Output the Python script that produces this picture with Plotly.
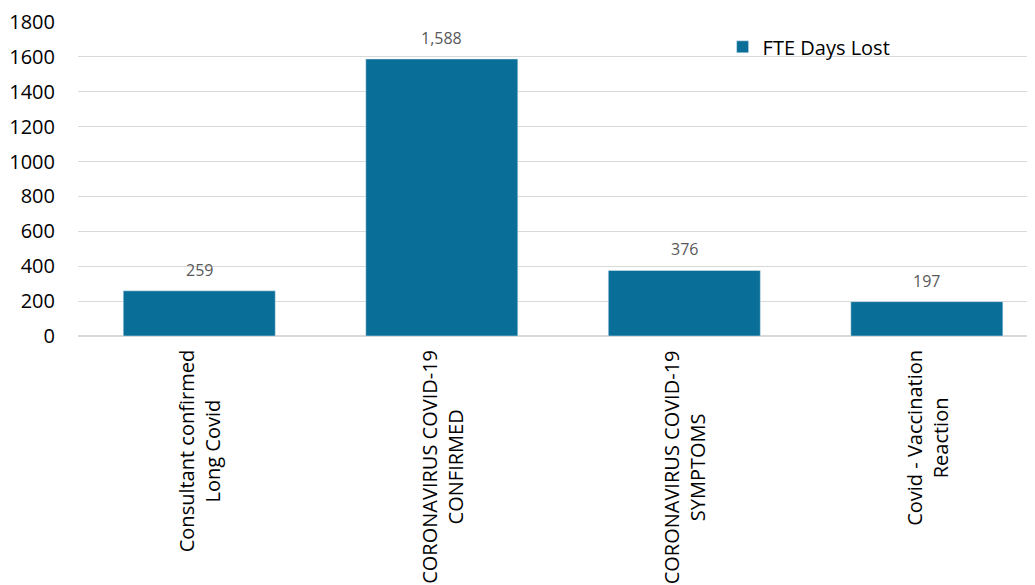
import plotly.graph_objects as go

categories = ["Consultant confirmed<br>Long Covid",
              "CORONAVIRUS COVID-19<br>CONFIRMED",
              "CORONAVIRUS COVID-19<br>SYMPTOMS",
              "Covid - Vaccination<br>Reaction"]
values = [259, 1588, 376, 197]
series_name = "FTE Days Lost"
y_ticks = [0, 200, 400, 600, 800, 1000, 1200, 1400, 1600, 1800]

BAR = "#0A6F98"
FONT = "Open Sans"
xs = list(range(len(categories)))

fig = go.Figure()
fig.add_trace(go.Bar(x=xs, y=values, name=series_name, marker_color=BAR,
                     width=0.627, showlegend=True))

annotations = []
for x, v in zip(xs, values):
    annotations.append(dict(x=x, y=v, xref="x", yref="y", text=f"{v:,}",
                            showarrow=False, yanchor="bottom", yshift=8,
                            font=dict(family=FONT, size=16, color="#595959")))
for x, c in zip(xs, categories):
    annotations.append(dict(x=x, y=0, xref="x", yref="paper", text=c,
                            showarrow=False, textangle=-90, yanchor="top",
                            xanchor="center", align="center", yshift=-12,
                            font=dict(family=FONT, size=20, color="#000000")))

fig.update_layout(
    width=1035, height=585,
    margin=dict(l=70, r=0, t=11, b=257),
    paper_bgcolor="white", plot_bgcolor="white",
    font=dict(family=FONT, size=20, color="#000000"),
    annotations=annotations,
    legend=dict(x=0.668, y=0.921, xanchor="left", yanchor="middle",
                bgcolor="rgba(0,0,0,0)", font=dict(family=FONT, size=20),
                itemwidth=30),
    xaxis=dict(range=[-0.5, 3.479], showticklabels=False, showgrid=False,
               zeroline=False, showline=False, ticks=""),
    yaxis=dict(range=[0, 1800], tickvals=y_ticks, showgrid=True,
               gridcolor="#D9D9D9", gridwidth=1, zeroline=True,
               zerolinecolor="#D9D9D9", showline=False, ticks="",
               ticklabelstandoff=22, ticklabeloverflow="allow",
               tickfont=dict(family=FONT, size=20, color="#000000")),
)

fig.write_html("out.html")
